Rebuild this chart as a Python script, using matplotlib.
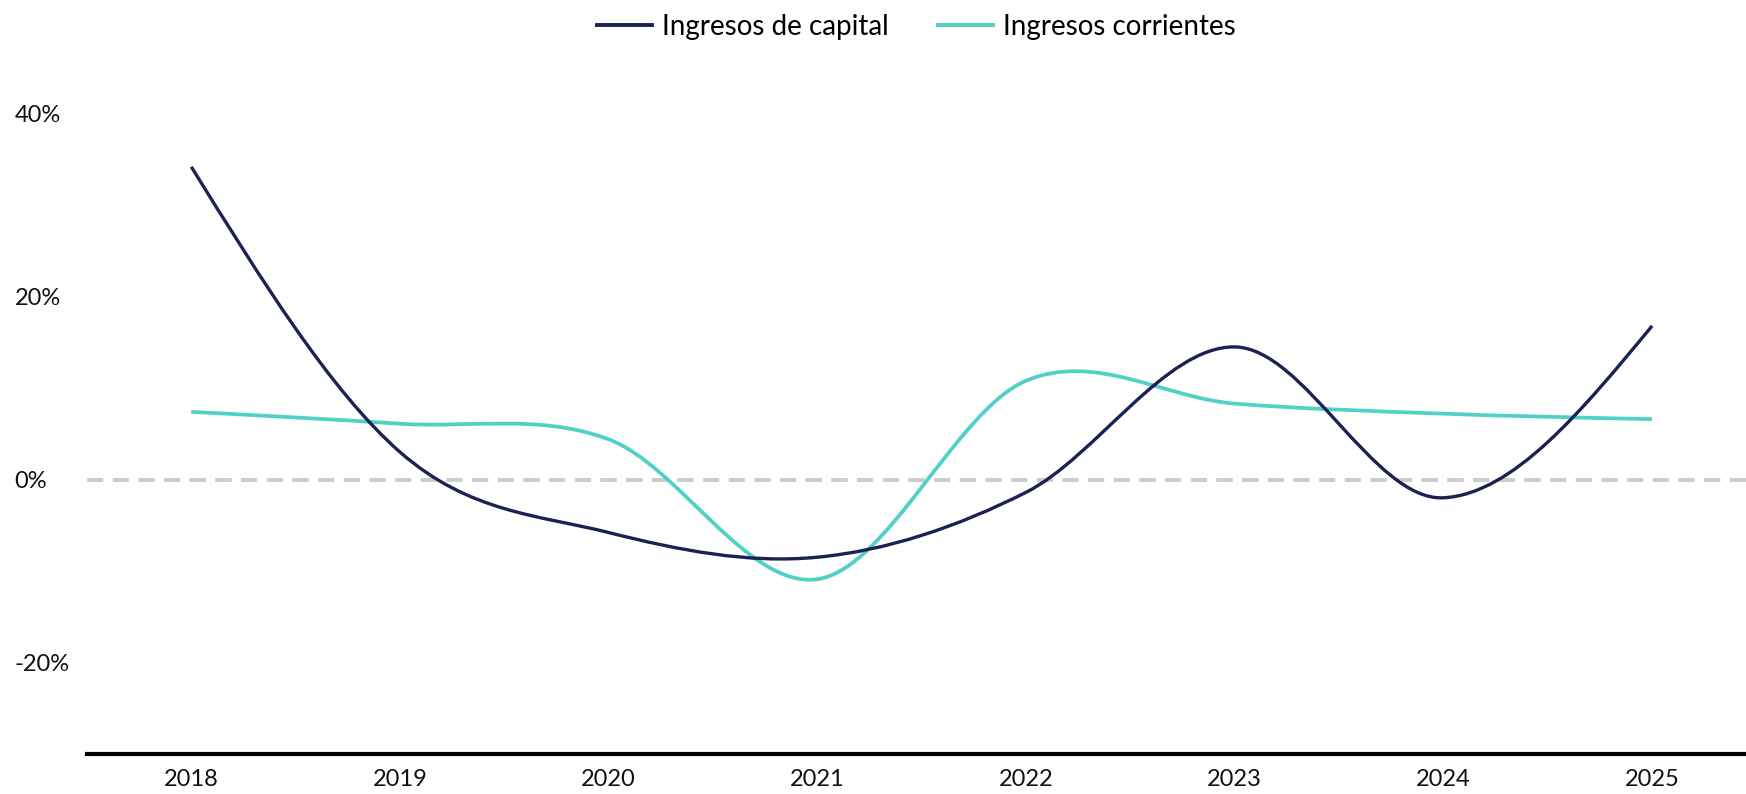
import matplotlib
matplotlib.use("Agg")
import matplotlib.pyplot as plt
from matplotlib.path import Path
from matplotlib.patches import PathPatch
from matplotlib.lines import Line2D
import numpy as np

plt.rcParams['font.family'] = ['Lato', 'DejaVu Sans']

# datos (% variación anual)
years = [2018, 2019, 2020, 2021, 2022, 2023, 2024, 2025]
capital = [34.2, 3.0, -5.8, -8.5, -1.4, 14.5, -2.0, 16.8]
corrientes = [7.4, 6.1, 4.4, -10.9, 10.8, 8.3, 7.2, 6.6]
yticks = [-20, 0, 20, 40]

NAVY = "#1b2152"
TEAL = "#4fd1c5"


def smooth_path(x, y):
    # curva suave tipo catmull-rom, con extremos "naturales"
    x = np.asarray(x, float)
    y = np.asarray(y, float)
    n = len(x)
    m = np.zeros(n)
    for i in range(1, n - 1):
        m[i] = (y[i + 1] - y[i - 1]) / (x[i + 1] - x[i - 1])
    verts = [(x[0], y[0])]
    codes = [Path.MOVETO]
    for i in range(n - 1):
        h = x[i + 1] - x[i]
        c1 = [x[i] + h / 3, y[i] + m[i] * h / 3]
        c2 = [x[i + 1] - h / 3, y[i + 1] - m[i + 1] * h / 3]
        if i == 0:
            c1 = [(x[0] + c2[0]) / 2, (y[0] + c2[1]) / 2]
        if i == n - 2:
            c2 = [(x[-1] + c1[0]) / 2, (y[-1] + c1[1]) / 2]
        verts += [tuple(c1), tuple(c2), (x[i + 1], y[i + 1])]
        codes += [Path.CURVE4] * 3
    return Path(verts, codes)


fig = plt.figure(figsize=(17.46, 7.94), dpi=100)
ax = fig.add_axes([0.0498, 0.0506, 0.9502, 0.9213])

ax.axhline(0, color="#cccccc", lw=2.8, dashes=(4.2, 2.4), zorder=1)

ax.add_patch(PathPatch(smooth_path(years, capital), fill=False, ec=NAVY,
                       lw=2.4, capstyle="butt", zorder=3))
ax.add_patch(PathPatch(smooth_path(years, corrientes), fill=False, ec=TEAL,
                       lw=2.7, capstyle="butt", zorder=2))

ax.set_xlim(2017.5, 2025.45)
ax.set_ylim(-30, 50)

ax.set_xticks(years)
ax.set_xticklabels([str(y) for y in years])
ax.set_yticks(yticks)
ax.set_yticklabels([f"{v}%" for v in yticks])

for s in ["top", "right", "left"]:
    ax.spines[s].set_visible(False)
ax.spines["bottom"].set_linewidth(3)
ax.spines["bottom"].set_color("black")

ax.tick_params(axis="x", length=0, pad=11, labelsize=17, labelcolor="#111111")
ax.tick_params(axis="y", length=0, pad=52, labelsize=17, labelcolor="#111111")
for lab in ax.get_yticklabels():
    lab.set_horizontalalignment("left")

handles = [Line2D([], [], color=NAVY, lw=2.8),
           Line2D([], [], color=TEAL, lw=2.8)]
ax.legend(handles, ["Ingresos de capital", "Ingresos corrientes"],
          loc="center", bbox_to_anchor=(0.5, 0.994), ncol=2, frameon=False,
          fontsize=20, handlelength=2.0, handletextpad=0.36,
          columnspacing=1.75)

fig.savefig("out.png", dpi=100)
